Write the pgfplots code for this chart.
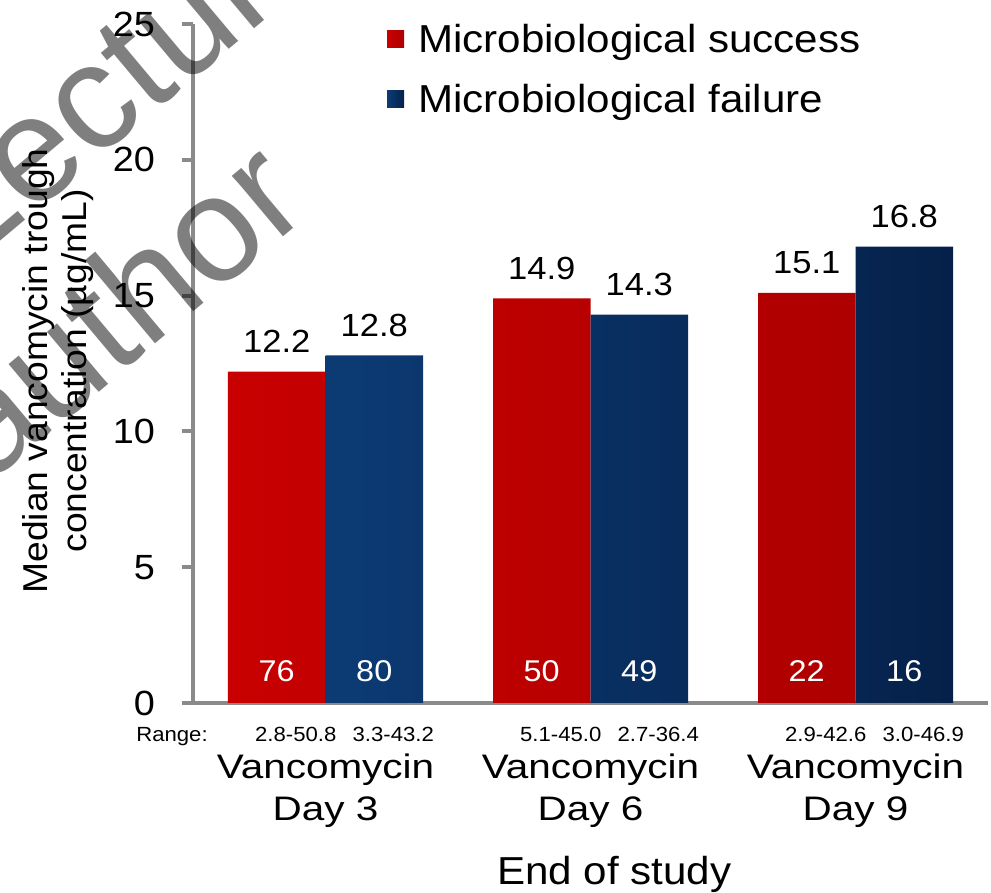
\documentclass[border=0pt]{standalone}
\usepackage{fontspec}
\setmainfont{Liberation Sans}[FakeStretch=1.08]
\newfontfamily\widesans{Liberation Sans}[FakeStretch=1.19]
\newfontfamily\plainsans{Liberation Sans}
\usepackage{pgfplots}
\pgfplotsset{compat=1.18}

\definecolor{succred}{HTML}{DA0404}
\definecolor{succleft}{HTML}{C80000}
\definecolor{succright}{HTML}{AE0000}
\definecolor{failblue}{HTML}{0F4381}
\definecolor{failleft}{HTML}{0C3B74}
\definecolor{failright}{HTML}{05214A}
\definecolor{axisgray}{HTML}{8A8A8A}

% median trough concentration per time point (x = 0, 1, 2 -> day 3, 6, 9)
\pgfplotstableread{
x  median
0  12.2
1  14.9
2  15.1
}\successtbl
\pgfplotstableread{
x  median
0  12.8
1  14.3
2  16.8
}\failuretbl

\tikzset{
  countlabel/.style={white, anchor=base, font=\fontsize{30}{36}\selectfont, yshift=21pt},
  rangelabel/.style={anchor=base, font=\fontsize{20.5}{24}\selectfont, xshift=19pt, yshift=-39pt},
  watermark/.style={anchor=base west, rotate=40, inner sep=0pt, text opacity=0.5,
    font=\plainsans\fontsize{150}{170}\selectfont},
}

\begin{document}
\begin{tikzpicture}[x=1pt,y=1pt]
\path[use as bounding box] (0,0) rectangle (991,893);
\begin{axis}[
  at={(193pt,190pt)}, anchor=south west,
  scale only axis, width=795pt, height=679pt,
  xmin=-0.5, xmax=2.5, ymin=0, ymax=25,
  enlargelimits=false, clip=false,
  axis lines*=left,
  axis line style={axisgray, line width=4pt},
  /pgf/number format/assume math mode=true,
  ytick={0,5,...,25},
  tick align=outside, major tick length=11pt,
  ytick style={axisgray, line width=4pt},
  yticklabel style={font=\fontsize{35}{42}\selectfont, inner sep=0pt, xshift=-27pt},
  xtick={0,1,2},
  xticklabels={{Vancomycin\\Day 3},{Vancomycin\\Day 6},{Vancomycin\\Day 9}},
  xtick style={draw=none},
  xticklabel style={align=center, font=\widesans\fontsize{34}{42}\selectfont, inner sep=0pt, yshift=-40pt},
  ylabel={Median vancomycin trough\\concentration (µg/mL)},
  ylabel style={at={(rel axis cs:-0.17,0.489)}, anchor=center, align=center,
    font=\fontsize{34.5}{39}\selectfont},
  xlabel={End of study},
  xlabel style={at={(rel axis cs:0.53,0)}, anchor=base, yshift=-182pt,
    font=\fontsize{39}{46}\selectfont},
  ybar=0pt, bar width=97.5pt,
  nodes near coords={\pgfmathprintnumber[fixed,fixed zerofill,precision=1]{\pgfplotspointmeta}},
  every node near coord/.append style={font=\fontsize{32}{38}\selectfont, anchor=base, yshift=19pt, black},
  legend style={at={(rel axis cs:0.244,1.0)}, anchor=north west, draw=none, fill=none,
    font=\fontsize{39}{46}\selectfont, row sep=30pt, column sep=14pt, inner sep=0pt,
    nodes={inner sep=0pt}},
  legend cell align=left,
  legend image code/.code={\fill[#1] (0pt,-8.5pt) rectangle (17pt,8.5pt);},
]
\addplot[draw=none, left color=succleft, middle color=succred, right color=succright]
  table[x=x, y=median] {\successtbl};
\addlegendentry{Microbiological success}
\addplot[draw=none, left color=failleft, middle color=failblue, right color=failright]
  table[x=x, y=median] {\failuretbl};
\addlegendentry{Microbiological failure}

% patient counts inside the bars
\node[countlabel] at (axis cs:-0.184,0) {76};
\node[countlabel] at (axis cs:0.184,0) {80};
\node[countlabel] at (axis cs:0.816,0) {50};
\node[countlabel] at (axis cs:1.184,0) {49};
\node[countlabel] at (axis cs:1.816,0) {22};
\node[countlabel] at (axis cs:2.184,0) {16};

% concentration ranges below the bars
\node[rangelabel] at (axis cs:-0.184,0) {2.8-50.8};
\node[rangelabel] at (axis cs:0.184,0) {3.3-43.2};
\node[rangelabel] at (axis cs:0.816,0) {5.1-45.0};
\node[rangelabel] at (axis cs:1.184,0) {2.7-36.4};
\node[rangelabel] at (axis cs:1.816,0) {2.9-42.6};
\node[rangelabel] at (axis cs:2.184,0) {3.0-46.9};
\end{axis}

\node[anchor=base, font=\fontsize{20.5}{24}\selectfont] at (172,151) {Range:};

% watermark
\begin{scope}
\clip (0,0) rectangle (991,893);
\node[watermark] at (-35,622) {Lecture};
\node[watermark] at (-12,408) {author};
\end{scope}
\end{tikzpicture}
\end{document}
